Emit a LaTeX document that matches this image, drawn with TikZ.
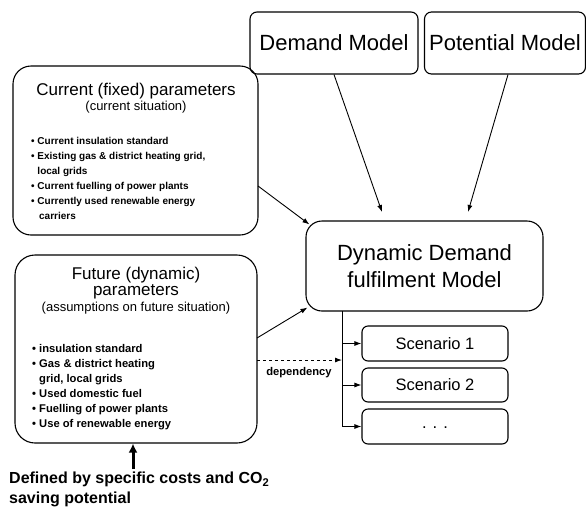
\documentclass[tikz,border=0pt]{standalone}
\usepackage{fontspec}
\setmainfont{Liberation Sans}
\usetikzlibrary{arrows.meta,calc}
\begin{document}
\begin{tikzpicture}[x=1pt,y=-1pt,
  box/.style={draw,line width=1.1pt,rounded corners=#1,inner sep=0pt,align=center},
  box/.default=6pt,
  conn/.style={line width=0.9pt,-{Latex[length=7pt,width=5pt]}},
  big/.style={font=\fontsize{22}{27}\selectfont},
  ttl/.style={font=\fontsize{17}{20}\selectfont,inner sep=0pt},
  sub/.style={font=\fontsize{13}{15}\selectfont,inner sep=0pt},
  bul/.style={font=\bfseries\fontsize{#1}{15}\selectfont,align=left,inner sep=0pt,anchor=north west},
  ]
\useasboundingbox (0,0) rectangle (586,515);

% top models
\node[box=7pt,big,minimum width=168pt,minimum height=62pt] (dem) at (334,43) {Demand Model};
\node[box=7pt,big,minimum width=161pt,minimum height=62pt] (pot) at (505,43) {Potential Model};

% dynamic model
\node[box=16pt,big,minimum width=237pt,minimum height=90pt] (dyn) at (424.5,266) {Dynamic Demand\\fulfilment Model};

% scenarios
\node[box=6pt,font=\fontsize{16.5}{20}\selectfont,minimum width=146pt,minimum height=35pt] (s1) at (435,343.5) {Scenario 1};
\node[box=6pt,font=\fontsize{16.5}{20}\selectfont,minimum width=146pt,minimum height=34pt] (s2) at (435,385) {Scenario 2};
\node[box=6pt,font=\fontsize{16.5}{20}\selectfont,minimum width=146pt,minimum height=35pt] (s3) at (435,426.5) {\raisebox{-4pt}{. . .}};

% current parameters
\node[box=18pt,minimum width=245pt,minimum height=169pt] (cur) at (135.5,150.5) {};
\node[ttl] (curT) at (136,91) {Current (fixed) parameters};
\node[sub] (curS) at (136,107) {(current situation)};
\node[bul=10] (curB) at (31,137) {• Current insulation standard\\
• Existing gas \& district heating grid,\\
\phantom{• }local grids\\
• Current fuelling of power plants\\
• Currently used renewable energy\\
\phantom{• }\,carriers};

% future parameters
\node[box=20pt,minimum width=242pt,minimum height=188pt] (fut) at (136,349) {};
\node[ttl] (futT1) at (136,275) {Future (dynamic)};
\node[ttl] (futT2) at (136,292) {parameters};
\node[sub] (futS) at (136,308.5) {(assumptions on future situation)};
\node[bul=11.2] (futB) at (32,344) {• insulation standard\\
• Gas \& district heating\\
\phantom{• }grid, local grids\\
• Used domestic fuel\\
• Fuelling of power plants\\
• Use of renewable energy};

% connectors into dynamic model
\coordinate (demT) at (382,212);
\coordinate (potT) at (468,212);
\draw[conn] (dem.south) -- (demT);
\draw[conn] ([xshift=3pt]pot.south) -- (potT);
\coordinate (curE) at (258,186);
\coordinate (futE) at (257,338);
\draw[conn] (curE) -- ([shift={(4,4)}]dyn.north west);
\draw[conn] (futE) -- ([shift={(2,-4)}]dyn.south west);

% scenario trunk
\coordinate (trunk) at (342,311);
\draw[line width=0.9pt] (trunk) -- (trunk |- s3.west);
\draw[conn] (trunk |- s1.west) -- (s1.west);
\draw[conn] (trunk |- s2.west) -- (s2.west);
\draw[conn] (trunk |- s3.west) -- (s3.west);

% dependency
\coordinate (depS) at (257,360);
\draw[line width=0.9pt,dashed,-{Latex[length=7pt,width=5pt]}] (depS) -- (depS -| trunk);
\node[font=\bfseries\fontsize{11.2}{13}\selectfont,inner sep=0pt] (dep) at (299,373) {dependency};

% bottom
\coordinate (botS) at (133,469);
\draw[line width=3pt,-{Latex[length=9pt,width=9pt]}] (botS) -- (botS |- fut.south);
\node[font=\bfseries\fontsize{16}{20}\selectfont,align=left,inner sep=0pt,anchor=north west] (defn) at (9,472) {Defined by specific costs and CO\textsubscript{2}\\saving potential};
\end{tikzpicture}
\end{document}
